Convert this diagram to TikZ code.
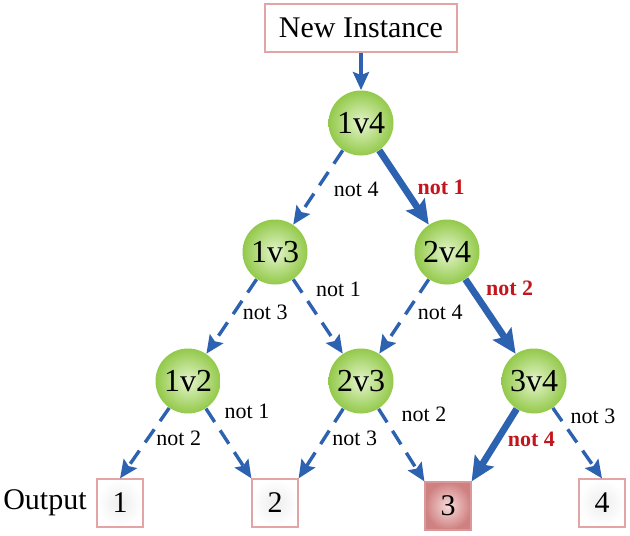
\documentclass[tikz,border=0pt]{standalone}
\usepackage{fontspec}
\setmainfont{Liberation Serif}
\usepackage{xcolor}
\usetikzlibrary{positioning,arrows.meta,shapes.geometric}
\definecolor{arrowblue}{HTML}{2C62B0}
\definecolor{nodegreen}{HTML}{93C94A}
\definecolor{nodelight}{HTML}{E4F5CC}
\definecolor{boxpink}{HTML}{E2A4A4}
\definecolor{hitred}{HTML}{C3161C}
\definecolor{hitfill}{HTML}{CF8080}
\definecolor{hitlight}{HTML}{F7DADA}

\begin{document}
\begin{tikzpicture}[x=0.5pt,y=-0.5pt,font=\fontsize{15}{18}\selectfont]
  \tikzstyle{vs}=[circle,minimum size=32.5pt,inner sep=0pt,shading=radial,inner color=nodelight,outer color=nodegreen,font=\fontsize{16}{18}\selectfont]
  \tikzstyle{outbox}=[draw=boxpink,line width=0.6pt,minimum width=23pt,minimum height=24pt,inner sep=0pt,shading=radial,inner color=gray!14,outer color=white]
  \tikzstyle{skip}=[-{Stealth[length=9pt,width=8pt,inset=1.5pt]},arrowblue,line width=1.7pt,dash pattern=on 8pt off 5pt]
  \tikzstyle{take}=[-{Stealth[length=12pt,width=11pt,inset=2pt]},arrowblue,line width=3.4pt]
  \tikzstyle{lbl}=[font=\fontsize{11}{13}\selectfont,text=black]
  \tikzstyle{hit}=[font=\fontsize{11}{13}\selectfont\bfseries,text=hitred]
  \useasboundingbox (0,0) rectangle (630,535);
  % tree of pairwise classifiers
  \node[draw=boxpink,line width=0.6pt,minimum width=96pt,minimum height=24pt] (new) at (361,28) {New Instance};
  \node[vs] (v14) at (361,123) {1v4};
  \node[vs] (v13) at (275,252) {1v3};
  \node[vs] (v24) at (447,252) {2v4};
  \node[vs] (v12) at (188,381) {1v2};
  \node[vs] (v23) at (361,381) {2v3};
  \node[vs] (v34) at (534,381) {3v4};
  % outputs
  \node (lab) at (45,503) {Output};
  \node[outbox] (o1) at (120,503) {1};
  \node[outbox] (o2) at (275,503) {2};
  \node[outbox,inner color=hitlight,outer color=hitfill,draw=hitfill!80] (o3) at (448,506) {3};
  \node[outbox] (o4) at (602,503) {4};
  % connectors
  \draw[arrowblue,line width=2pt,-{Stealth[length=9pt,width=8pt,inset=1.5pt]}] (new) -- (v14);
  \draw[skip] (v14) -- node[lbl,pos=.53,right=4.5pt] {not 4} (v13);
  \draw[take] (v14) -- node[hit,pos=.5,right=1.8pt] {not 1} (v24);
  \draw[skip] (v13) -- node[lbl,pos=.44,right=0pt] {not 3} (v12);
  \draw[skip] (v13) -- node[lbl,pos=.14,right=3.8pt] {not 1} (v23);
  \draw[skip] (v24) -- node[lbl,pos=.44,right=1.3pt] {not 4} (v23);
  \draw[take] (v24) -- node[hit,pos=.12,right=2.3pt] {not 2} (v34);
  \draw[skip] (v12) -- node[lbl,pos=.43,right=0pt] {not 2} (o1.north);
  \draw[skip] (v12) -- node[lbl,pos=.04,right=4.3pt] {not 1} (o2.north west);
  \draw[skip] (v23) -- node[lbl,pos=.43,right=0pt] {not 3} (o2.north east);
  \draw[skip] (v23) -- node[lbl,pos=.07,right=5.8pt] {not 2} (o3.north west);
  \draw[take] (v34) -- node[hit,pos=.42,right=0pt] {not 4} (o3.north east);
  \draw[skip] (v34) -- node[lbl,pos=.12,right=1.8pt] {not 3} (o4.north);
\end{tikzpicture}
\end{document}
